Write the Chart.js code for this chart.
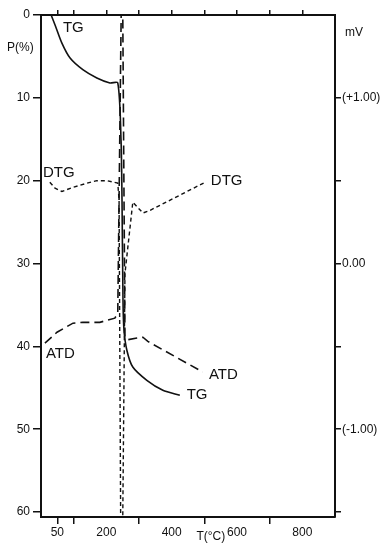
<!DOCTYPE html>
<html>
<head>
<meta charset="utf-8">
<script src="https://cdn.jsdelivr.net/npm/chart.js@4/dist/chart.umd.min.js"></script>
<style>
  html, body { margin: 0; padding: 0; background: #fff; }
  #chart { display: block; }
</style>
</head>
<body>
<canvas id="chart" width="383" height="547"></canvas>
<script>
// TG : weight loss P(%) vs temperature (°C)
const tgTemp = [31, 43, 64, 89, 128, 171, 211, 235, 245, 248, 251, 254, 263, 281, 324, 373, 425];
const tgLoss = [0, 1.2, 3.4, 5.2, 6.6, 7.6, 8.2, 8.2, 15.1, 22.3, 34.4, 38.0, 40.5, 42.5, 44.1, 45.3, 45.9];

// DTG : plotted on the P scale (arbitrary units)
const dtgTemp = [27, 43, 64, 98, 141, 171, 202, 235, 239, 244, 250, 257, 281, 312, 333, 502];
const dtgValue = [20.2, 20.9, 21.3, 20.8, 20.3, 20.0, 20.0, 20.3, 22.3, 62, 62, 31.2, 22.6, 23.9, 23.6, 20.2];

// ATD : mV (right axis)
const atdTemp = [12, 49, 98, 128, 180, 226, 235, 246, 250, 257, 266, 294, 312, 327, 495];
const atdMv = [-0.48, -0.415, -0.36, -0.355, -0.355, -0.33, -0.30, 1.6, 1.6, -0.445, -0.46, -0.45, -0.445, -0.47, -0.655];

// ticks
const xTicks = [50, 100, 200, 300, 400, 500, 600, 700, 800];
const xLabels = [50, 200, 400, 600, 800];
const topTicks = [50, 100, 200, 300, 400, 500, 600, 700, 800];
const pTicks = [0, 10, 20, 30, 40, 50, 60];
const mvTicks = [1, 0.5, 0, -0.5, -1, -1.5];
const mvLabels = { "1": "(+1.00)", "0": "0.00", "-1": "(-1.00)" };

// curve names, anchored in data units [text, T, P]
const curveNames = [
  ["TG", 67, 1.6],
  ["TG", 446, 45.9],
  ["DTG", 6, 19.0],
  ["DTG", 520, 20.0],
  ["ATD", 15, 40.9],
  ["ATD", 514, 43.4]
];

const ink = "#111";
const fam = "'Liberation Sans', Arial, sans-serif";
const tickFont = { family: fam, size: 12 };

function pts(xs, ys) {
  return xs.map((x, i) => ({ x: x, y: ys[i] }));
}

const textPlugin = {
  id: "texts",
  beforeDraw(chart) {
    const c = chart.ctx;
    c.save();
    c.fillStyle = "#fff";
    c.fillRect(0, 0, chart.width, chart.height);
    c.restore();
  },
  afterDatasetsDraw(chart) {
    const c = chart.ctx;
    const sx = chart.scales.x, sy = chart.scales.y;
    const a = chart.chartArea;
    c.save();
    c.fillStyle = ink;
    c.textBaseline = "middle";
    c.textAlign = "left";
    c.font = "15px " + fam;
    curveNames.forEach(n => {
      c.fillText(n[0], sx.getPixelForValue(n[1]), sy.getPixelForValue(n[2]));
    });
    c.font = "12px " + fam;
    c.fillText("P(%)", a.left - 34, sy.getPixelForValue(3.9));
    c.fillText("mV", a.right + 10, sy.getPixelForValue(2.1));
    c.textAlign = "center";
    c.fillText("T(°C)", sx.getPixelForValue(520), a.bottom + 20);
    c.restore();
  }
};

const ctx = document.getElementById("chart").getContext("2d");
const myChart = new Chart(ctx, {
  type: "line",
  data: {
    datasets: [
      {
        label: "TG",
        data: pts(tgTemp, tgLoss),
        yAxisID: "y",
        borderColor: ink,
        borderWidth: 1.6,
        pointRadius: 0,
        tension: 0.25
      },
      {
        label: "DTG",
        data: pts(dtgTemp, dtgValue),
        yAxisID: "y",
        borderColor: ink,
        borderWidth: 1.4,
        borderDash: [4, 3],
        pointRadius: 0,
        tension: 0
      },
      {
        label: "ATD",
        data: pts(atdTemp, atdMv),
        yAxisID: "y2",
        borderColor: ink,
        borderWidth: 1.6,
        borderDash: [9, 5],
        pointRadius: 0,
        tension: 0
      }
    ]
  },
  options: {
    responsive: false,
    animation: false,
    devicePixelRatio: 1,
    layout: { padding: 0 },
    plugins: { legend: { display: false }, tooltip: { enabled: false } },
    scales: {
      x: {
        type: "linear",
        position: "bottom",
        min: 0,
        max: 900,
        afterBuildTicks: s => { s.ticks = xTicks.map(v => ({ value: v })); },
        afterFit: s => { s.height = 30; },
        grid: {
          drawOnChartArea: false,
          tickLength: 7,
          lineWidth: 1.5,
          color: c => (c.tick && xLabels.includes(c.tick.value) && c.tick.value !== 50) ? "rgba(0,0,0,0)" : ink
        },
        border: { display: true, color: ink, width: 2 },
        ticks: {
          autoSkip: false,
          maxRotation: 0,
          padding: 1,
          font: tickFont,
          color: ink,
          callback: v => xLabels.includes(v) ? String(v) : ""
        }
      },
      x2: {
        type: "linear",
        position: "top",
        min: 0,
        max: 900,
        afterBuildTicks: s => { s.ticks = topTicks.map(v => ({ value: v })); },
        afterFit: s => { s.height = 15; },
        grid: { drawOnChartArea: false, tickLength: 5, lineWidth: 1.5, color: ink },
        border: { display: true, color: ink, width: 2 },
        ticks: { autoSkip: false, maxRotation: 0, padding: 0, font: tickFont, callback: () => "" }
      },
      y: {
        type: "linear",
        position: "left",
        reverse: true,
        min: 0,
        max: 60.6,
        afterBuildTicks: s => { s.ticks = pTicks.map(v => ({ value: v })); },
        afterFit: s => { s.width = 41; },
        grid: { drawOnChartArea: false, tickLength: 8, lineWidth: 1.5, color: ink },
        border: { display: true, color: ink, width: 2 },
        ticks: { autoSkip: false, padding: 3, font: tickFont, color: ink, callback: v => String(v) }
      },
      y2: {
        type: "linear",
        position: "right",
        min: -1.53,
        max: 1.5,
        afterBuildTicks: s => { s.ticks = mvTicks.map(v => ({ value: v })); },
        afterFit: s => { s.width = 48; },
        grid: { drawOnChartArea: false, tickLength: 6, lineWidth: 1.5, color: ink },
        border: { display: true, color: ink, width: 2 },
        ticks: { autoSkip: false, padding: 1, font: tickFont, color: ink, callback: v => mvLabels[String(v)] || "" }
      }
    }
  },
  plugins: [textPlugin]
});
</script>
</body>
</html>
